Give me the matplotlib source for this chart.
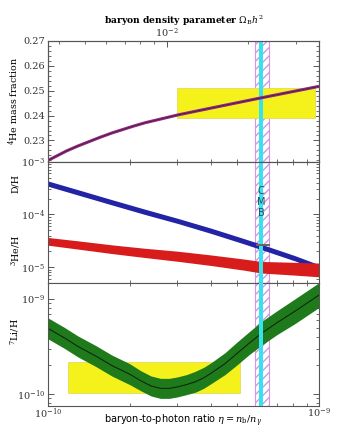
import numpy as np
import matplotlib
matplotlib.use("Agg")
import matplotlib.pyplot as plt
from matplotlib.ticker import MultipleLocator, NullFormatter

# ============================================================
# DATA
# ============================================================

# eta in units of 1e-10
he_eta = [1.0, 1.17, 1.29, 1.55, 1.72, 2.06, 2.28, 3.03, 4.0, 6.06, 8.0, 10.0]
he_yp = [0.2220, 0.2258, 0.2278, 0.2312, 0.2330, 0.2357, 0.2371, 0.2403,
         0.2430, 0.2470, 0.2496, 0.2517]

dh_eta = [1.0, 1.29, 1.72, 2.28, 3.0, 4.0, 5.3, 6.1, 8.15, 10.0]
dh_hi = [4.32e-4, 2.95e-4, 1.91e-4, 1.26e-4, 8.5e-5, 5.5e-5, 3.48e-5, 2.75e-5, 1.66e-5, 1.12e-5]
dh_lo = [3.43e-4, 2.34e-4, 1.52e-4, 1.00e-4, 6.8e-5, 4.37e-5, 2.76e-5, 2.18e-5, 1.32e-5, 0.89e-5]

he3_eta = [1.0, 1.29, 1.72, 2.28, 3.0, 4.0, 5.3, 6.1, 8.15, 10.0]
he3_hi = [3.67e-5, 3.17e-5, 2.66e-5, 2.29e-5, 2.02e-5, 1.71e-5, 1.43e-5, 1.29e-5, 1.24e-5, 1.20e-5]
he3_lo = [2.62e-5, 2.21e-5, 1.82e-5, 1.53e-5, 1.30e-5, 1.08e-5, 0.88e-5, 0.78e-5, 0.71e-5, 0.66e-5]

# 7Li/H: log10 of the central value and band half-width (dex)
li_eta = [1.0, 1.15, 1.29, 1.5, 1.72, 2.0, 2.2, 2.4, 2.6, 2.8, 3.0, 3.25,
          3.5, 3.75, 4.0, 4.5, 5.0, 5.5, 6.15, 7.0, 8.15, 10.0]
li_log_mid = [-9.31, -9.41, -9.50, -9.60, -9.70, -9.79, -9.86, -9.915,
              -9.94, -9.94, -9.925, -9.90, -9.87, -9.83, -9.78, -9.68,
              -9.57, -9.47, -9.36, -9.25, -9.13, -8.96]
li_halfwidth = [0.11, 0.11, 0.11, 0.11, 0.11, 0.11, 0.105, 0.105, 0.105,
                0.105, 0.105, 0.105, 0.11, 0.11, 0.11, 0.115, 0.12, 0.12,
                0.125, 0.125, 0.13, 0.13]

# observational boxes (eta range, value range)
he_box_eta = [2.98e-10, 9.66e-10]
he_box_y = [0.239, 0.2512]
li_box_eta = [1.19e-10, 5.11e-10]
li_box_y = [1.03e-10, 2.15e-10]
dh_obs_eta = [5.85e-10, 6.6e-10]
dh_obs_y = [2.55e-5, 2.72e-5]

# CMB bands
cmb_eta = [5.99e-10, 6.23e-10]
cmb_hatch_eta = [5.80e-10, 6.54e-10]

ETA_TO_OMEGA = 1e10 / 273.9

# ============================================================
# STYLE
# ============================================================

plt.rcParams["font.family"] = "DejaVu Serif"
plt.rcParams["mathtext.fontset"] = "dejavuserif"
plt.rcParams["axes.edgecolor"] = "#555555"
plt.rcParams["xtick.color"] = "#555555"
plt.rcParams["ytick.color"] = "#555555"
plt.rcParams["xtick.labelcolor"] = "#333333"
plt.rcParams["ytick.labelcolor"] = "#333333"

YELLOW = "#f4f21a"
CYAN = "#35e3f0"
HATCH = "#d495e2"

fig = plt.figure(figsize=(3.39, 4.33), dpi=100)
L, W = 48 / 339, 271 / 339
ax_he = fig.add_axes([L, 0.6266, W, 0.2794])
ax_mid = fig.add_axes([L, 0.3471, W, 0.2794])
ax_li = fig.add_axes([L, 0.0624, W, 0.2848])

for ax in (ax_he, ax_mid, ax_li):
    ax.set_xscale("log")
    ax.set_xlim(1e-10, 1e-9)
    ax.tick_params(which="both", direction="in", top=True, right=True,
                   labelsize=7, pad=2)
    ax.tick_params(axis="x", pad=0.5)
    ax.tick_params(which="major", length=4, width=0.7)
    ax.tick_params(which="minor", length=2, width=0.6)
    for s in ax.spines.values():
        s.set_linewidth(0.8)
    # CMB: hatched region + cyan stripe
    ax.axvspan(*cmb_hatch_eta, facecolor="none", edgecolor=HATCH,
               hatch="////", linewidth=0.8, zorder=1)
    ax.axvspan(*cmb_eta, facecolor=CYAN, edgecolor="none", zorder=3)

for ax in (ax_he, ax_mid):
    ax.tick_params(labelbottom=False)

# ------------------------------------------------------------
# 4He panel
# ------------------------------------------------------------
he_eta_abs = np.array(he_eta) * 1e-10
ax_he.set_ylim(0.2215, 0.27)
ax_he.yaxis.set_major_locator(MultipleLocator(0.01))
ax_he.yaxis.set_minor_locator(MultipleLocator(0.002))
ax_he.fill_between(he_box_eta, he_box_y[0], he_box_y[1], color=YELLOW,
                   edgecolor="#e6d85a", linewidth=0.6, zorder=2)
ax_he.plot(he_eta_abs, he_yp, color="#8a2a7e", lw=2.2, zorder=4,
           solid_capstyle="butt")
ax_he.plot(he_eta_abs, he_yp, color="#4a1030", lw=0.4, zorder=5)
ax_he.set_ylabel(r"$^4$He mass fraction", fontsize=6.8)
ax_he.yaxis.set_label_coords(-0.1, 0.5)

# top axis: baryon density parameter
ax_top = ax_he.twiny()
ax_top.set_xscale("log")
ax_top.set_xlim(1e-10 * ETA_TO_OMEGA, 1e-9 * ETA_TO_OMEGA)
ax_top.tick_params(which="both", direction="in", labelsize=7, pad=1)
ax_top.tick_params(which="major", length=4, width=0.7)
ax_top.tick_params(which="minor", length=2, width=0.6)
ax_top.xaxis.set_minor_formatter(NullFormatter())
ax_top.set_xlabel(r"baryon density parameter $\Omega_{\rm B}h^2$",
                  fontsize=6.6, fontweight="bold", labelpad=2)

# ------------------------------------------------------------
# D/H and 3He/H panel
# ------------------------------------------------------------
ax_mid.set_yscale("log")
ax_mid.set_ylim(5.1e-6, 1.0e-3)
ax_mid.fill_between(np.array(dh_eta) * 1e-10, dh_lo, dh_hi,
                    color="#2323a6", linewidth=0, zorder=2)
ax_mid.fill_between(np.array(he3_eta) * 1e-10, he3_lo, he3_hi,
                    color="#d81c1c", linewidth=0, zorder=2)
ax_mid.fill_between(dh_obs_eta, dh_obs_y[0], dh_obs_y[1],
                    color="#6a6a5a", linewidth=0, zorder=4)
ax_mid.yaxis.set_minor_formatter(NullFormatter())
ax_mid.text(6.11e-10, 1.72e-4, "C\nM\nB", family="DejaVu Sans",
            fontsize=7, color="#1d4f5f", ha="center", va="center",
            linespacing=1.15, zorder=6)
ax_mid.text(-0.12, 0.82, "D/H", transform=ax_mid.transAxes, rotation=90,
            fontsize=6.8, ha="center", va="center")
ax_mid.text(-0.12, 0.27, r"$^3$He/H", transform=ax_mid.transAxes,
            rotation=90, fontsize=6.8, ha="center", va="center")

# ------------------------------------------------------------
# 7Li/H panel
# ------------------------------------------------------------
li_eta_abs = np.array(li_eta) * 1e-10
li_mid = 10.0 ** np.array(li_log_mid)
li_lo = 10.0 ** (np.array(li_log_mid) - np.array(li_halfwidth))
li_hi = 10.0 ** (np.array(li_log_mid) + np.array(li_halfwidth))

ax_li.set_yscale("log")
ax_li.set_ylim(7.5e-11, 1.48e-9)
ax_li.fill_between(li_box_eta, li_box_y[0], li_box_y[1], color=YELLOW,
                   edgecolor="#e6d85a", linewidth=0.6, zorder=1.5)
ax_li.fill_between(li_eta_abs, li_lo, li_hi, color="#1e7a1a",
                   linewidth=0, zorder=2)
ax_li.plot(li_eta_abs, li_mid, color="#0a200a", lw=0.7, zorder=2.5)
ax_li.yaxis.set_minor_formatter(NullFormatter())
ax_li.xaxis.set_minor_formatter(NullFormatter())
ax_li.set_ylabel(r"$^7$Li/H", fontsize=6.8)
ax_li.yaxis.set_label_coords(-0.1, 0.6)
ax_li.set_xlabel(r"baryon-to-photon ratio $\eta = n_{\rm b}/n_\gamma$",
                 fontsize=7, family="DejaVu Sans")
ax_li.xaxis.set_label_coords(0.5, -0.055)

plt.savefig("out.png", dpi=100)
